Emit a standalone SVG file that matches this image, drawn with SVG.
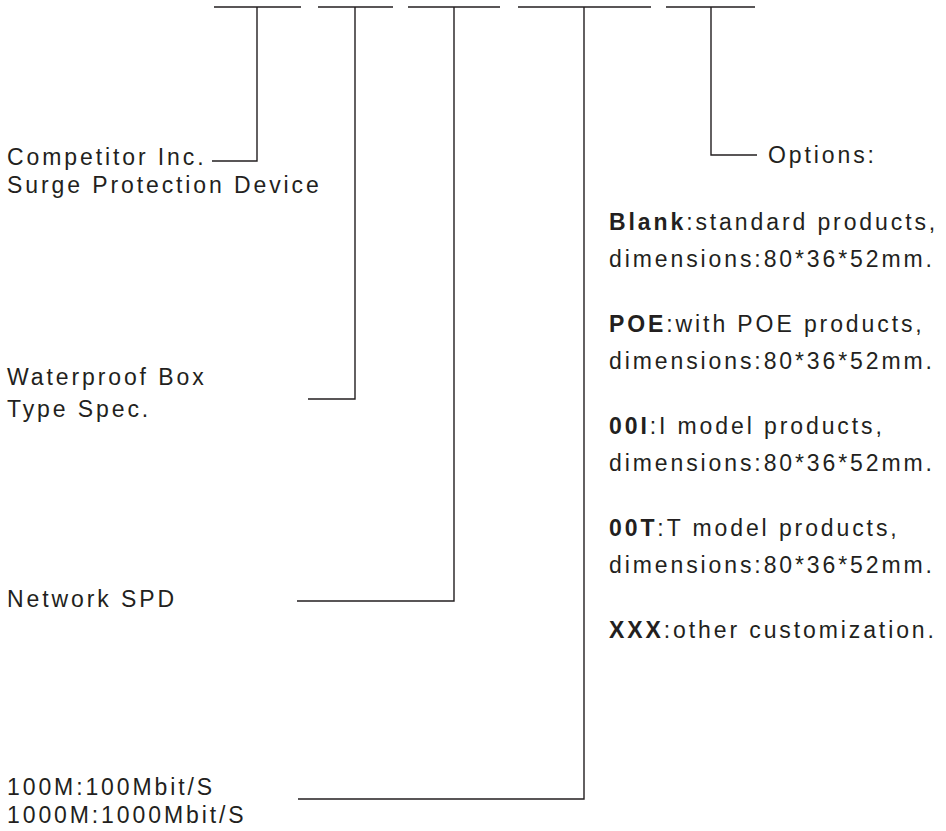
<svg xmlns="http://www.w3.org/2000/svg" width="946" height="831" viewBox="0 0 946 831">
<style>
.t{font-family:"Liberation Sans",Arial,sans-serif;font-size:23px;letter-spacing:2.9px;fill:#231f20}
.b{font-weight:bold}
.ln{stroke:#231f20;stroke-width:1.4;fill:none}
</style>
<rect width="946" height="831" fill="#fff"/>
<g id="connectors">
<path class="ln" d="M214 7H301M318 7H393M408 7H500M518 7H651M666 7H755"/>
<path class="ln" d="M257 7V161H212"/>
<path class="ln" d="M355 7V399H308"/>
<path class="ln" d="M454 7V601H297"/>
<path class="ln" d="M584 7V799H298"/>
<path class="ln" d="M711 7V155H757"/>
</g>
<g id="competitor"><text class="t" x="7" y="165">Competitor Inc.</text><text class="t" x="7" y="193">Surge Protection Device</text></g>
<g id="waterproof"><text class="t" x="7" y="385">Waterproof Box</text><text class="t" x="7" y="417">Type Spec.</text></g>
<g id="network"><text class="t" x="7" y="607">Network SPD</text></g>
<g id="speed"><text class="t" x="7" y="795">100M:100Mbit/S</text><text class="t" x="7" y="823">1000M:1000Mbit/S</text></g>
<g id="options">
<text class="t" x="768" y="163">Options:</text>
<text class="t" x="609" y="230"><tspan class="b">Blank</tspan>:standard products,</text>
<text class="t" x="609" y="267">dimensions:80*36*52mm.</text>
<text class="t" x="609" y="332"><tspan class="b">POE</tspan>:with POE products,</text>
<text class="t" x="609" y="369">dimensions:80*36*52mm.</text>
<text class="t" x="609" y="434"><tspan class="b">00I</tspan>:I model products,</text>
<text class="t" x="609" y="471">dimensions:80*36*52mm.</text>
<text class="t" x="609" y="536"><tspan class="b">00T</tspan>:T model products,</text>
<text class="t" x="609" y="573">dimensions:80*36*52mm.</text>
<text class="t" x="609" y="638"><tspan class="b">XXX</tspan>:other customization.</text>
</g>
</svg>
